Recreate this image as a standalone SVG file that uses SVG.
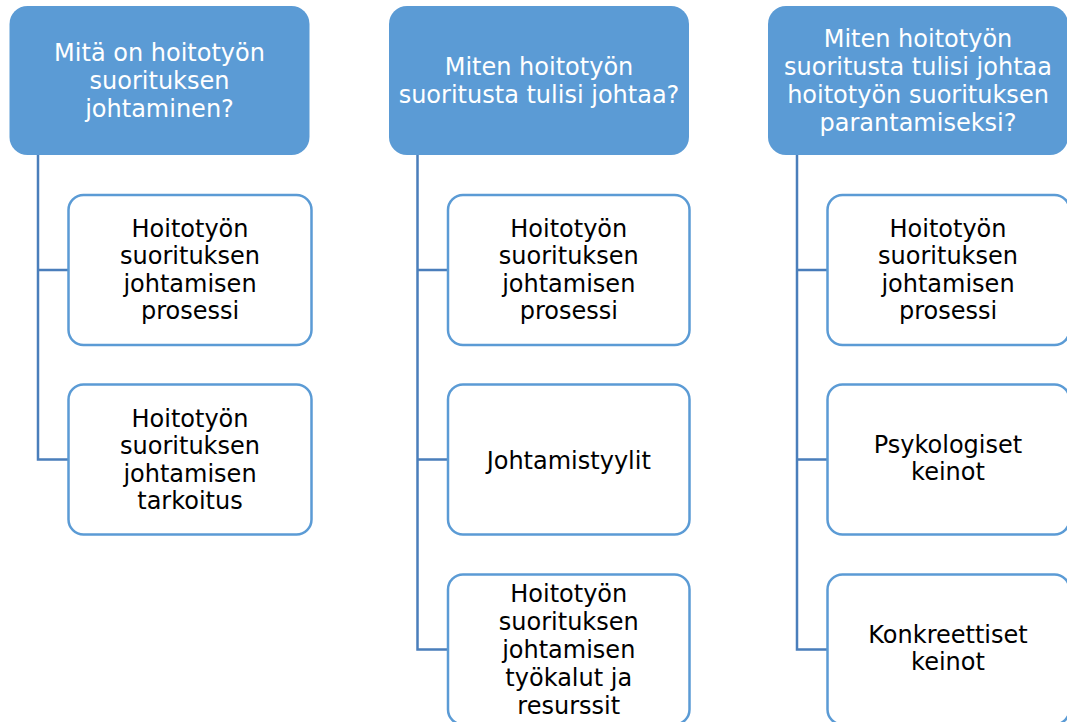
<svg xmlns="http://www.w3.org/2000/svg" width="1067" height="722" viewBox="0 0 1067 722">
<style>
.hdr{fill:#5B9BD5;stroke:none}
.box{fill:#FFFFFF;stroke:#5B9BD5;stroke-width:2.5}
.ht{font-family:"DejaVu Sans",Verdana,sans-serif;font-size:24px;fill:#FFFFFF;text-anchor:middle}
.bt{font-family:"DejaVu Sans",Verdana,sans-serif;font-size:24px;fill:#000000;text-anchor:middle}
.con{fill:none;stroke:#4A7EBB;stroke-width:2.5}
</style>
<rect width="1067" height="722" fill="#FFFFFF"/>
<g id="connectors">
<path class="con" d="M38,155 V459.5 H68.5 M38,270 H68.5"/>
<path class="con" d="M417.5,155 V649.5 H448 M417.5,270 H448 M417.5,459.5 H448"/>
<path class="con" d="M797,155 V649.5 H827.5 M797,270 H827.5 M797,459.5 H827.5"/>
</g>
<g id="h1">
<rect class="hdr" x="9.5" y="6" width="300" height="149" rx="18"/>
<text class="ht" x="159.5"><tspan x="159.5" y="61">Mitä on hoitotyön</tspan><tspan x="159.5" y="89">suorituksen</tspan><tspan x="159.5" y="117">johtaminen?</tspan></text>
</g>
<g id="h2">
<rect class="hdr" x="389" y="6" width="300" height="149" rx="18"/>
<text class="ht" x="539"><tspan x="539" y="75">Miten hoitotyön</tspan><tspan x="539" y="103">suoritusta tulisi johtaa?</tspan></text>
</g>
<g id="h3">
<rect class="hdr" x="768" y="6" width="300" height="149" rx="18"/>
<text class="ht" x="918"><tspan x="918" y="47">Miten hoitotyön</tspan><tspan x="918" y="75">suoritusta tulisi johtaa</tspan><tspan x="918" y="103">hoitotyön suorituksen</tspan><tspan x="918" y="131">parantamiseksi?</tspan></text>
</g>
<g id="c1a">
<rect class="box" x="68.5" y="195" width="243" height="150" rx="15"/>
<text class="bt"><tspan x="190" y="237">Hoitotyön</tspan><tspan x="190" y="264.4">suorituksen</tspan><tspan x="190" y="291.8">johtamisen</tspan><tspan x="190" y="319.2">prosessi</tspan></text>
</g>
<g id="c1b">
<rect class="box" x="68.5" y="384.5" width="243" height="150" rx="15"/>
<text class="bt"><tspan x="190" y="427">Hoitotyön</tspan><tspan x="190" y="454.4">suorituksen</tspan><tspan x="190" y="481.8">johtamisen</tspan><tspan x="190" y="509.2">tarkoitus</tspan></text>
</g>
<g id="c2a">
<rect class="box" x="448" y="195" width="241.5" height="150" rx="15"/>
<text class="bt"><tspan x="568.75" y="237">Hoitotyön</tspan><tspan x="568.75" y="264.4">suorituksen</tspan><tspan x="568.75" y="291.8">johtamisen</tspan><tspan x="568.75" y="319.2">prosessi</tspan></text>
</g>
<g id="c2b">
<rect class="box" x="448" y="384.5" width="241.5" height="150" rx="15"/>
<text class="bt" x="568.75" y="468.5">Johtamistyylit</text>
</g>
<g id="c2c">
<rect class="box" x="448" y="574.5" width="241.5" height="150" rx="15"/>
<text class="bt"><tspan x="568.75" y="602">Hoitotyön</tspan><tspan x="568.75" y="629.9">suorituksen</tspan><tspan x="568.75" y="657.8">johtamisen</tspan><tspan x="568.75" y="685.7">työkalut ja</tspan><tspan x="568.75" y="713.6">resurssit</tspan></text>
</g>
<g id="c3a">
<rect class="box" x="827.5" y="195" width="242" height="150" rx="15"/>
<text class="bt"><tspan x="948" y="237">Hoitotyön</tspan><tspan x="948" y="264.4">suorituksen</tspan><tspan x="948" y="291.8">johtamisen</tspan><tspan x="948" y="319.2">prosessi</tspan></text>
</g>
<g id="c3b">
<rect class="box" x="827.5" y="384.5" width="242" height="150" rx="15"/>
<text class="bt"><tspan x="948" y="453">Psykologiset</tspan><tspan x="948" y="480.4">keinot</tspan></text>
</g>
<g id="c3c">
<rect class="box" x="827.5" y="574.5" width="242" height="150" rx="15"/>
<text class="bt"><tspan x="948" y="643">Konkreettiset</tspan><tspan x="948" y="670.4">keinot</tspan></text>
</g>
</svg>
